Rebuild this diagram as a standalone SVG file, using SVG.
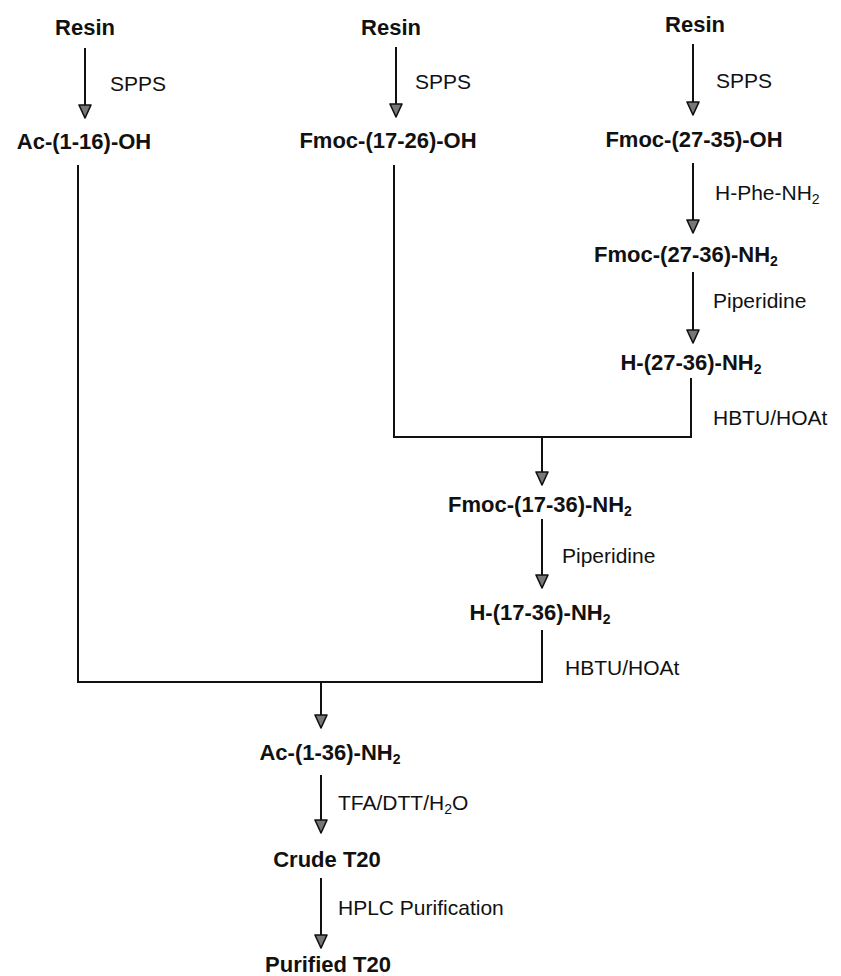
<svg xmlns="http://www.w3.org/2000/svg" width="841" height="976" viewBox="0 0 841 976">
<defs>
<style>
.b{font-family:"Liberation Sans",Arial,sans-serif;font-weight:bold;font-size:22px;fill:#111;text-anchor:middle}
.r{font-family:"Liberation Sans",Arial,sans-serif;font-size:21px;fill:#111}
.s{font-size:14px}
.ln{stroke:#111;stroke-width:2;fill:none}
</style>
<marker id="ah" viewBox="0 0 15 14" refX="14" refY="7" markerWidth="15" markerHeight="14" markerUnits="userSpaceOnUse" orient="auto">
<path d="M1,1 L14,7 L1,13 Z" fill="#777" stroke="#111" stroke-width="1.6" stroke-linejoin="round"/>
</marker>
</defs>
<rect width="841" height="976" fill="#fff"/>
<g id="connectors">
<line class="ln" x1="85" y1="48" x2="85" y2="118" marker-end="url(#ah)"/>
<line class="ln" x1="396" y1="47" x2="396" y2="117" marker-end="url(#ah)"/>
<line class="ln" x1="693" y1="44" x2="693" y2="115" marker-end="url(#ah)"/>
<line class="ln" x1="693" y1="163" x2="693" y2="233" marker-end="url(#ah)"/>
<line class="ln" x1="693" y1="272" x2="693" y2="343" marker-end="url(#ah)"/>
<polyline class="ln" points="691,378 691,437 394,437 394,165"/>
<line class="ln" x1="542" y1="437" x2="542" y2="485" marker-end="url(#ah)"/>
<line class="ln" x1="542" y1="519" x2="542" y2="588" marker-end="url(#ah)"/>
<polyline class="ln" points="542,630 542,682 78,682 78,165"/>
<line class="ln" x1="321" y1="682" x2="321" y2="728" marker-end="url(#ah)"/>
<line class="ln" x1="321" y1="775" x2="321" y2="833" marker-end="url(#ah)"/>
<line class="ln" x1="321" y1="878" x2="321" y2="948" marker-end="url(#ah)"/>
</g>
<g id="resin1"><text class="b" x="85" y="35">Resin</text></g>
<g id="resin2"><text class="b" x="391" y="35">Resin</text></g>
<g id="resin3"><text class="b" x="695" y="32">Resin</text></g>
<g id="lbl-spps1"><text class="r" x="110" y="91">SPPS</text></g>
<g id="lbl-spps2"><text class="r" x="415" y="89">SPPS</text></g>
<g id="lbl-spps3"><text class="r" x="716" y="88">SPPS</text></g>
<g id="ac1-16"><text class="b" x="84" y="149">Ac-(1-16)-OH</text></g>
<g id="fmoc17-26"><text class="b" x="388" y="148">Fmoc-(17-26)-OH</text></g>
<g id="fmoc27-35"><text class="b" x="694" y="147">Fmoc-(27-35)-OH</text></g>
<g id="lbl-phe"><text class="r" x="715" y="200">H-Phe-NH<tspan class="s" dy="4">2</tspan></text></g>
<g id="fmoc27-36"><text class="b" x="686" y="262">Fmoc-(27-36)-NH<tspan class="s" dy="4">2</tspan></text></g>
<g id="lbl-pip1"><text class="r" x="713" y="308">Piperidine</text></g>
<g id="h27-36"><text class="b" x="691" y="370">H-(27-36)-NH<tspan class="s" dy="4">2</tspan></text></g>
<g id="lbl-hbtu1"><text class="r" x="713" y="425">HBTU/HOAt</text></g>
<g id="fmoc17-36"><text class="b" x="540" y="512">Fmoc-(17-36)-NH<tspan class="s" dy="4">2</tspan></text></g>
<g id="lbl-pip2"><text class="r" x="562" y="563">Piperidine</text></g>
<g id="h17-36"><text class="b" x="540" y="620">H-(17-36)-NH<tspan class="s" dy="4">2</tspan></text></g>
<g id="lbl-hbtu2"><text class="r" x="565" y="675">HBTU/HOAt</text></g>
<g id="ac1-36"><text class="b" x="330" y="760">Ac-(1-36)-NH<tspan class="s" dy="4">2</tspan></text></g>
<g id="lbl-tfa"><text class="r" x="338" y="810">TFA/DTT/H<tspan class="s" dy="4">2</tspan><tspan dy="-4">O</tspan></text></g>
<g id="crude"><text class="b" x="327" y="867">Crude T20</text></g>
<g id="lbl-hplc"><text class="r" x="338" y="915">HPLC Purification</text></g>
<g id="purified"><text class="b" x="328" y="972">Purified T20</text></g>
</svg>
